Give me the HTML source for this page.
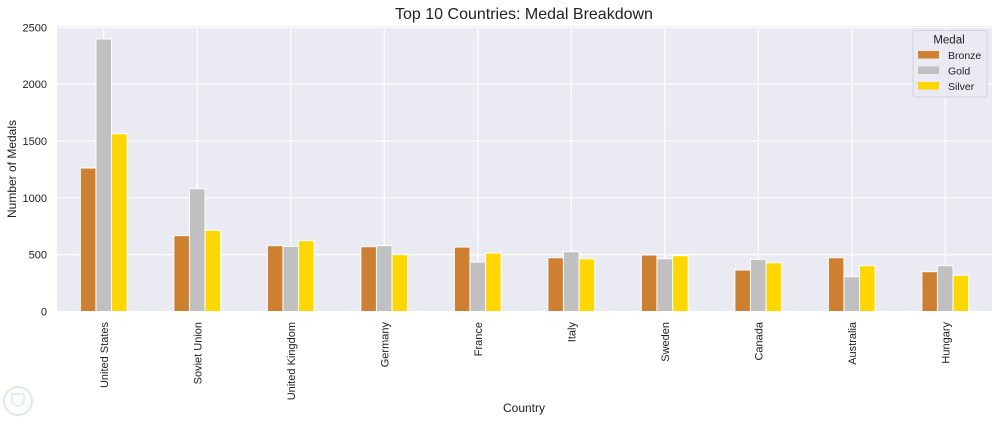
<!DOCTYPE html>
<html><head><meta charset="utf-8"><style>
body{margin:0;background:#fff;font-family:"Liberation Sans",Arial,sans-serif}
svg text{font-family:"Liberation Sans",Arial,sans-serif;fill:#222}
</style></head><body>
<svg id="chart" width="1000" height="422" viewBox="0 0 1000 422" xmlns="http://www.w3.org/2000/svg">
<text x="524" y="19" font-size="16" text-anchor="middle">Top 10 Countries: Medal Breakdown</text>
<rect x="57" y="26" width="935" height="285.5" fill="#eaeaf2"/>
<g id="grid"></g><g id="bars"></g><g id="ticks"></g>
<text transform="translate(16,169) rotate(-90)" font-size="12" text-anchor="middle">Number of Medals</text>
<text x="524" y="412" font-size="12" text-anchor="middle">Country</text>
<g>
<rect x="913" y="30.5" width="74" height="66.5" rx="3" fill="#eaeaf2" stroke="#ccc" stroke-width="0.8"/>
<text x="949" y="43.5" font-size="11.5" text-anchor="middle">Medal</text>
<g id="legend-items"></g>
</g>
<g opacity="0.35"><circle cx="18" cy="401" r="14" fill="none" stroke="#9c9" stroke-width="2"/><path d="M12 394 L24 394 L24 402 Q18 410 12 402 Z" fill="none" stroke="#9c9" stroke-width="1.5"/></g>
</svg>
<script>
const categories=["United States","Soviet Union","United Kingdom","Germany","France","Italy","Sweden","Canada","Australia","Hungary"];
const bronze=[1262,667,579,570,567,473,497,365,473,350];
const gold=[2397,1080,573,579,435,526,464,459,306,403];
const silver=[1564,714,623,500,514,464,491,429,403,318];
const seriesNames=["Bronze","Gold","Silver"];
const yTicks=[0,500,1000,1500,2000,2500];
const NS="http://www.w3.org/2000/svg";
const X0=57,PW=935,Y0=311.5,YT=27.3,YMAX=2500;
const colors=["#cd7f32","#c0c0c0","#ffd700"];
const series=[bronze,gold,silver];
const bw=PW/categories.length;
function xc(i){return X0+bw*(i+0.5);}
function y(v){return Y0-(v/YMAX)*(Y0-YT);}
function mk(t,a,p){const e=document.createElementNS(NS,t);for(const k in a)e.setAttribute(k,a[k]);p.appendChild(e);return e;}
const grid=document.getElementById('grid'),bars=document.getElementById('bars'),ticks=document.getElementById('ticks');
yTicks.forEach(v=>{
 const l=mk('line',{x1:X0,x2:X0+PW,y1:y(v),y2:y(v),stroke:'#fff','stroke-width':1.2},grid);
 
 
 const t=mk('text',{x:X0-10,y:y(v)+4,'font-size':11,'text-anchor':'end'},ticks);t.textContent=v;
 
 
});
categories.forEach((c,i)=>{
 const l=mk('line',{x1:xc(i),x2:xc(i),y1:26,y2:Y0,stroke:'#fff','stroke-width':1.2},grid);
 
 
 const w=bw/6;
 series.forEach((s,k)=>{
  const x=xc(i)-1.5*w+k*w;
  const r=mk('rect',{x:x,y:y(s[i]),width:w,height:Y0-y(s[i]),fill:colors[k],stroke:'#fff','stroke-width':1},bars);
  
  
 });
 const t=mk('text',{transform:`translate(${xc(i)+4},322) rotate(-90)`,'font-size':11,'text-anchor':'end'},ticks);t.textContent=c;
 
 
});
const li=document.getElementById('legend-items');
seriesNames.forEach((n,k)=>{
 const g=mk('g',{},li);
 
 
 mk('rect',{x:918,y:51+k*15.5,width:21,height:7.5,fill:colors[k]},g);
 const t=mk('text',{x:948,y:59+k*15.5,'font-size':10.5},g);t.textContent=n;
});
</script>
</body></html>
